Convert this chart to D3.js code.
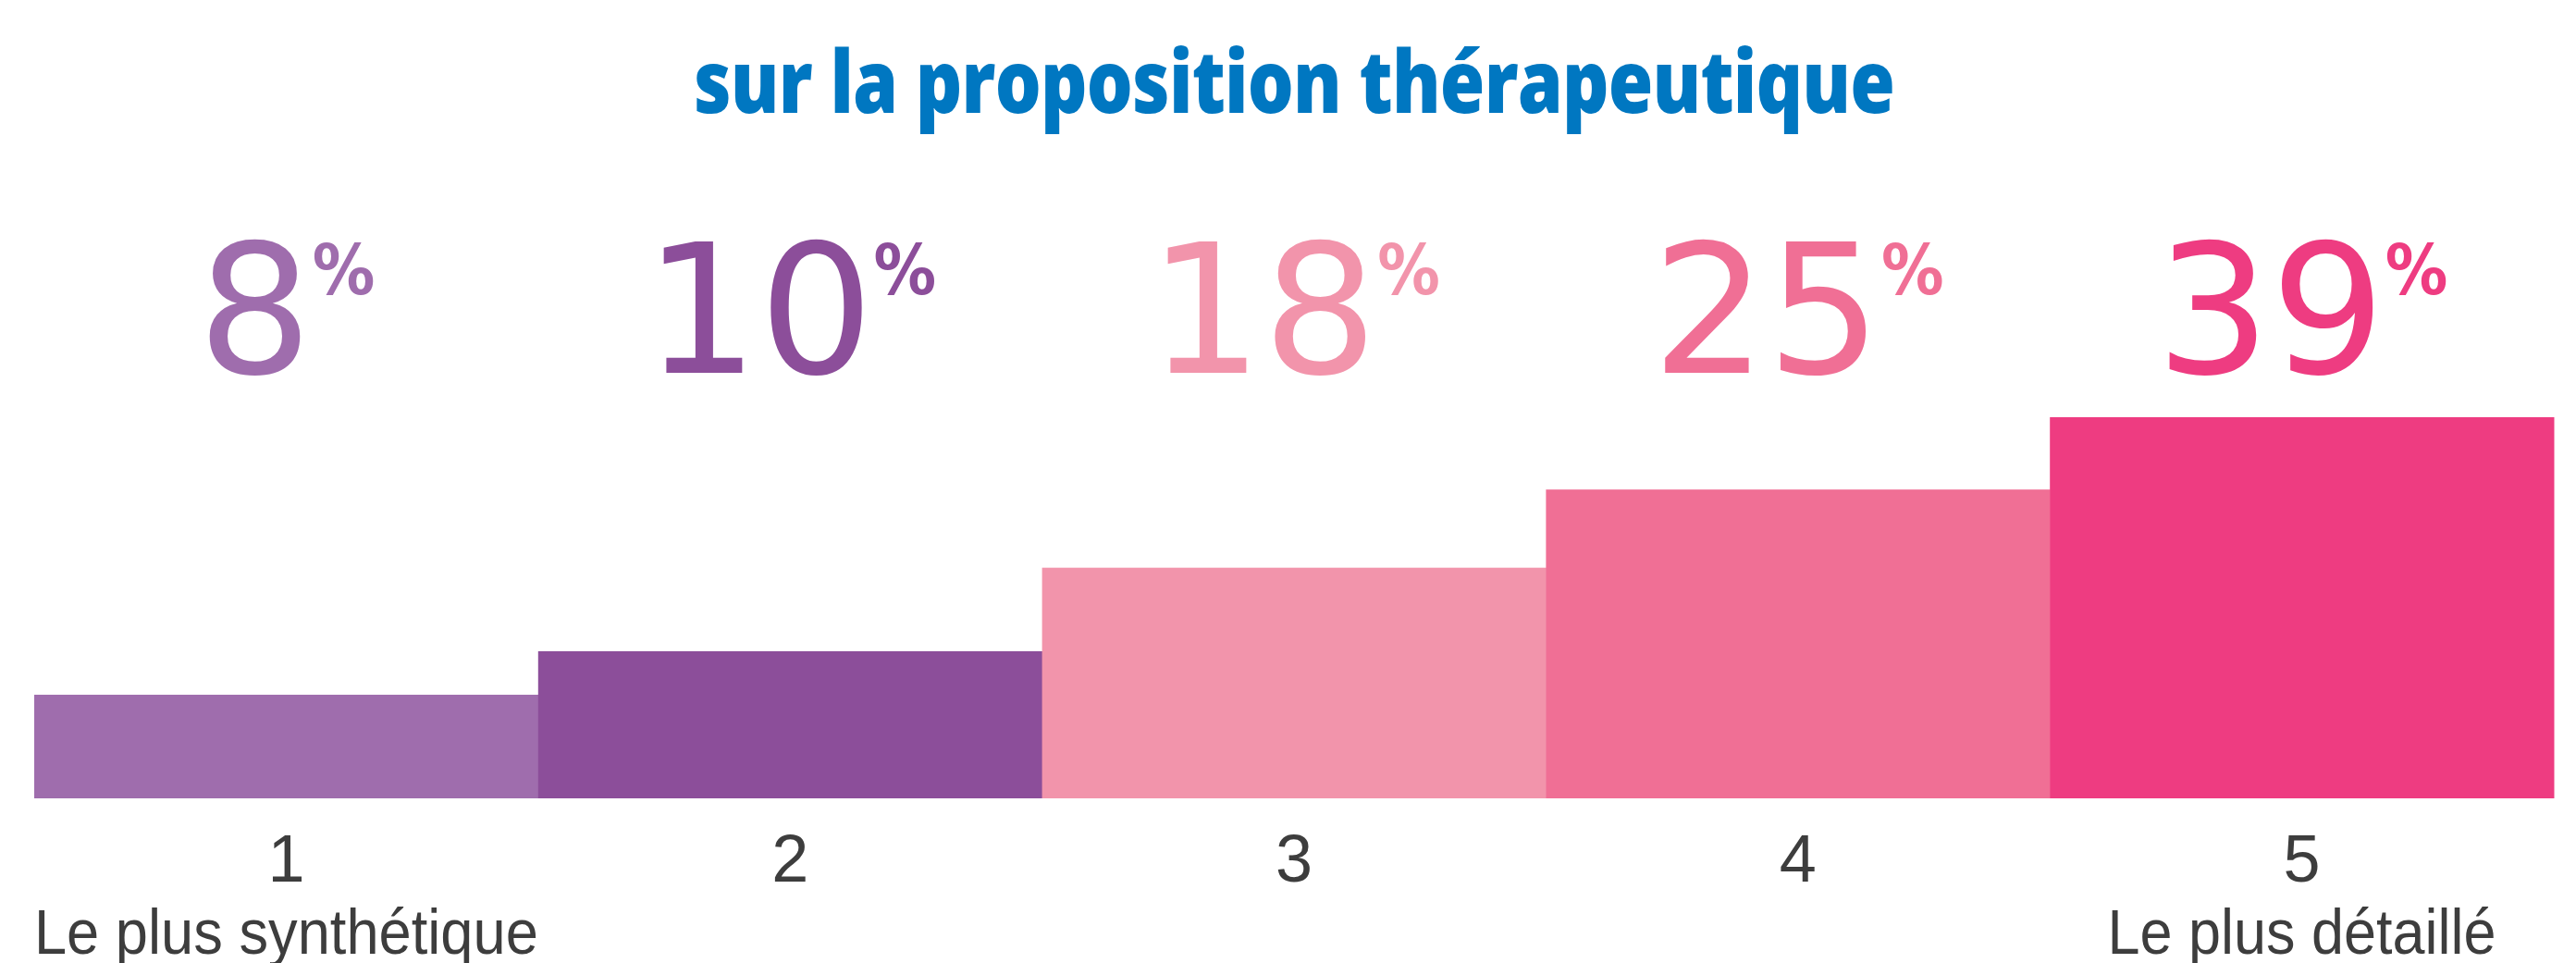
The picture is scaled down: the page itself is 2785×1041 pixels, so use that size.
<!DOCTYPE html>
<html>
<head>
<meta charset="utf-8">
<script src="https://cdn.jsdelivr.net/npm/d3@7"></script>
<style>
  html, body { margin: 0; padding: 0; background: #fff; }
  svg { display: block; }
</style>
</head>
<body>
<div id="chart"></div>
<script>
// Données
const titre = "sur la proposition thérapeutique";
const categories = ["1", "2", "3", "4", "5"];
const pourcentages = [8, 10, 18, 25, 39];
// hauteurs des barres telles que dessinées (pas proportionnelles aux %)
const niveauxBarres = [10.6, 15.05, 23.6, 31.6, 39];
const sousLabels = ["Le plus synthétique", "", "", "", "Le plus détaillé"];
const couleurs = ["#9f6dad", "#8c4e9a", "#f294ab", "#f06f95", "#ee3c81"];

// Configuration
const width = 2785;
const height = 1041;
const margin = { left: 37, right: 24, top: 451, bottom: 178 };

const svg = d3.select("#chart")
    .append("svg")
    .attr("width", width)
    .attr("height", height);

const x = d3.scaleBand()
    .domain(categories)
    .range([margin.left, width - margin.right])
    .padding(0);

const y = d3.scaleLinear()
    .domain([0, d3.max(niveauxBarres)])
    .range([height - margin.bottom, margin.top]);

const color = d3.scaleOrdinal()
    .domain(categories)
    .range(couleurs);

// ajuste la largeur d'un texte si besoin
function fitWidth(sel, w) {
    const l = sel.node().getComputedTextLength();
    if (Math.abs(l - w) > 4) sel.attr("textLength", w).attr("lengthAdjust", "spacingAndGlyphs");
}

// Titre
const t = svg.append("text")
    .attr("x", (margin.left + width - margin.right) / 2)
    .attr("y", 122)
    .attr("text-anchor", "middle")
    .style("font-family", "'Open Sans'")
    .style("font-weight", "800")
    .style("font-size", "94px")
    .style("letter-spacing", "-1px")
    .style("fill", "#0077c1")
    .text(titre);
fitWidth(t, 1298);

// Barres
svg.selectAll("rect.barre")
    .data(categories)
    .join("rect")
    .attr("class", "barre")
    .attr("x", d => x(d))
    .attr("width", x.bandwidth() + 0.5)
    .attr("y", (d, i) => y(niveauxBarres[i]))
    .attr("height", (d, i) => y(0) - y(niveauxBarres[i]))
    .attr("fill", d => color(d));

// Pourcentages
const groupes = svg.selectAll("g.pct")
    .data(categories)
    .join("g")
    .attr("class", "pct");

groupes.each(function (d, i) {
    const g = d3.select(this);
    const num = g.append("text")
        .attr("y", 403)
        .style("font-family", "'DejaVu Sans'")
        .style("font-size", "195px")
        .style("fill", color(d))
        .text(pourcentages[i]);
    const sym = g.append("text")
        .attr("y", 318)
        .style("font-family", "'DejaVu Sans Condensed', 'DejaVu Sans'")
        .style("font-weight", "bold")
        .style("font-size", "75px")
        .style("fill", color(d))
        .text("%");
    const wn = num.node().getComputedTextLength();
    const ws = sym.node().getComputedTextLength();
    const gap = 0;
    const total = wn + gap + ws;
    const x0 = x(d) + x.bandwidth() / 2 - total / 2;
    num.attr("x", x0);
    sym.attr("x", x0 + wn + gap);
});

// Axe des catégories
const axe = svg.append("g")
    .attr("transform", `translate(0, ${y(0)})`)
    .call(d3.axisBottom(x).tickSize(0).tickPadding(0));
axe.select(".domain").remove();
axe.selectAll("text")
    .attr("dy", null)
    .attr("y", 90)
    .style("font-family", "'Liberation Sans'")
    .style("font-size", "72px")
    .style("fill", "#3d3d3d");

// Sous-libellés
const largeurs = { "Le plus synthétique": 545, "Le plus détaillé": 420 };
svg.selectAll("text.sous")
    .data(categories.filter((d, i) => sousLabels[i]))
    .join("text")
    .attr("class", "sous")
    .attr("x", d => x(d) + x.bandwidth() / 2)
    .attr("y", 1031)
    .attr("text-anchor", "middle")
    .style("font-family", "'Liberation Sans'")
    .style("font-size", "68px")
    .style("fill", "#3d3d3d")
    .text(d => sousLabels[categories.indexOf(d)])
    .each(function () {
        const s = d3.select(this);
        fitWidth(s, largeurs[s.text()]);
    });
</script>
</body>
</html>
